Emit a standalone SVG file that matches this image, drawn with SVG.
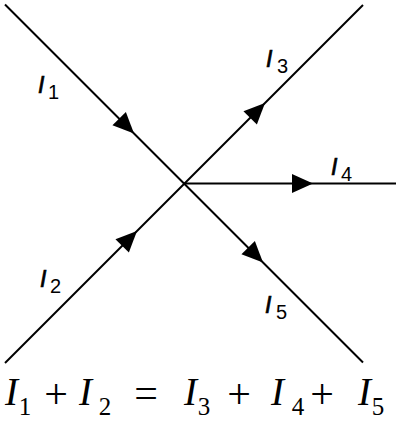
<svg xmlns="http://www.w3.org/2000/svg" width="400" height="421" viewBox="0 0 400 421">
<style>
.w{stroke:#000;stroke-width:2;fill:none}
.lab{font-family:"Liberation Sans",sans-serif;font-style:italic;font-size:23px;fill:#000;stroke:#000;stroke-width:0.7}
.sub{font-family:"Liberation Sans",sans-serif;font-size:20px;fill:#000}
.eqI{font-family:"Liberation Serif",serif;font-style:italic;font-size:39px;fill:#000}
.eqS{font-family:"Liberation Serif",serif;font-size:25px;fill:#000;text-anchor:middle}
.eqO{font-family:"Liberation Serif",serif;font-size:42px;fill:#000;text-anchor:middle}
</style>
<defs>
<path id="arr" d="M0,0 L-21,-9.5 L-21,9.5 Z" fill="#000"/>
</defs>
<rect width="400" height="421" fill="#fff"/>
<g id="connectors">
<line class="w" x1="5" y1="4.5" x2="363" y2="362.5"/>
<line class="w" x1="5" y1="363" x2="363" y2="5"/>
<line class="w" x1="183.5" y1="183.5" x2="396" y2="183.5"/>
<use href="#arr" transform="translate(134,133.5) rotate(45)"/>
<use href="#arr" transform="translate(263,262.5) rotate(45)"/>
<use href="#arr" transform="translate(137,231) rotate(-45)"/>
<use href="#arr" transform="translate(265,103) rotate(-45)"/>
<use href="#arr" transform="translate(313,183.5)"/>
</g>
<g id="label-I1"><text class="lab" x="38" y="93">I</text><text class="sub" x="48" y="99">1</text></g>
<g id="label-I2"><text class="lab" x="40" y="287">I</text><text class="sub" x="50" y="293">2</text></g>
<g id="label-I3"><text class="lab" x="266" y="67">I</text><text class="sub" x="277" y="73">3</text></g>
<g id="label-I4"><text class="lab" x="331" y="175">I</text><text class="sub" x="341" y="181">4</text></g>
<g id="label-I5"><text class="lab" x="265" y="313">I</text><text class="sub" x="276" y="319">5</text></g>
<g id="equation">
<text class="eqI" x="5" y="405">I</text><text class="eqS" x="25" y="414.5">1</text>
<text class="eqO" x="56" y="408">+</text>
<text class="eqI" x="79" y="405">I</text><text class="eqS" x="105" y="414.5">2</text>
<text class="eqO" x="146" y="407">=</text>
<text class="eqI" x="184" y="405">I</text><text class="eqS" x="204" y="414.5">3</text>
<text class="eqO" x="239" y="408">+</text>
<text class="eqI" x="271" y="405">I</text><text class="eqS" x="298" y="414.5">4</text>
<text class="eqO" x="322" y="408">+</text>
<text class="eqI" x="358" y="405">I</text><text class="eqS" x="378" y="414.5">5</text>
</g>
</svg>
